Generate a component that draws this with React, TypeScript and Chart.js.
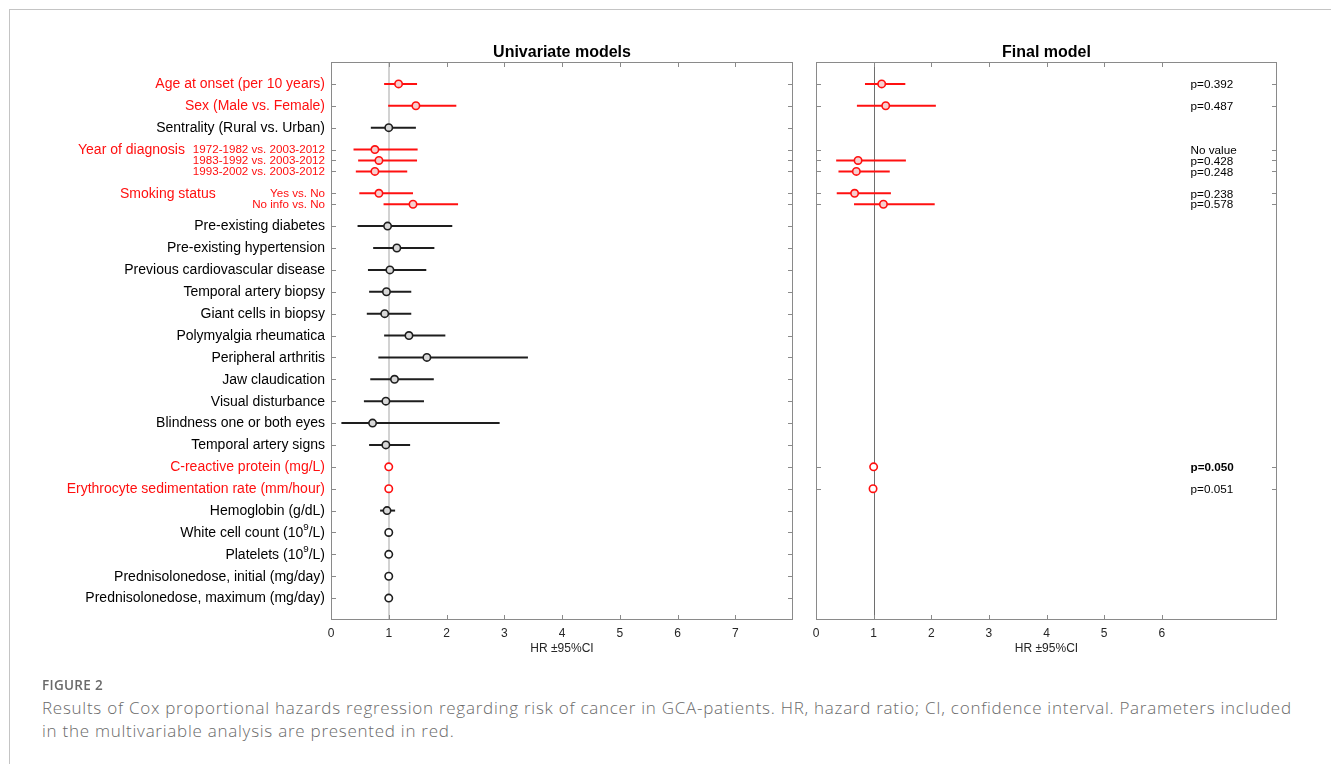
import React, { useEffect, useRef } from "react";
import { Chart, registerables } from "chart.js";
Chart.register(...registerables);

// ---------------- DATA ----------------
const rowLabels = [
  "Age at onset (per 10 years)",
  "Sex (Male vs. Female)",
  "Sentrality (Rural vs. Urban)",
  "1972-1982 vs. 2003-2012",
  "1983-1992 vs. 2003-2012",
  "1993-2002 vs. 2003-2012",
  "Yes vs. No",
  "No info vs. No",
  "Pre-existing diabetes",
  "Pre-existing hypertension",
  "Previous cardiovascular disease",
  "Temporal artery biopsy",
  "Giant cells in biopsy",
  "Polymyalgia rheumatica",
  "Peripheral arthritis",
  "Jaw claudication",
  "Visual disturbance",
  "Blindness one or both eyes",
  "Temporal artery signs",
  "C-reactive protein (mg/L)",
  "Erythrocyte sedimentation rate (mm/hour)",
  "Hemoglobin (g/dL)",
  "White cell count (10^9/L)",
  "Platelets (10^9/L)",
  "Prednisolonedose, initial (mg/day)",
  "Prednisolonedose, maximum (mg/day)",
];

const rowGroups: (string | null)[] = [
  null, null, null,
  "Year of diagnosis", "Year of diagnosis", "Year of diagnosis",
  "Smoking status", "Smoking status",
  null, null, null, null, null, null, null, null, null, null, null,
  null, null, null, null, null, null, null,
];

const inMultivariable = [
  true, true, false, true, true, true, true, true,
  false, false, false, false, false, false, false, false, false, false, false,
  true, true, false, false, false, false, false,
];

const uniHR = [1.17, 1.47, 1.0, 0.76, 0.83, 0.76, 0.83, 1.42, 0.98, 1.14, 1.02, 0.96, 0.93, 1.35, 1.66, 1.1, 0.95, 0.72, 0.95, 1.0, 1.0, 0.97, 1.0, 1.0, 1.0, 1.0];
const uniLo = [0.92, 0.99, 0.69, 0.39, 0.47, 0.43, 0.49, 0.91, 0.46, 0.73, 0.64, 0.66, 0.62, 0.92, 0.82, 0.68, 0.57, 0.18, 0.66, 0.995, 0.995, 0.85, 0.995, 0.998, 0.995, 0.998];
const uniHi = [1.49, 2.17, 1.47, 1.5, 1.49, 1.32, 1.42, 2.2, 2.1, 1.79, 1.65, 1.39, 1.39, 1.98, 3.41, 1.78, 1.61, 2.92, 1.37, 1.005, 1.005, 1.11, 1.005, 1.002, 1.005, 1.002];

const finalHR: (number | null)[] = [1.14, 1.21, null, null, 0.73, 0.7, 0.67, 1.17, null, null, null, null, null, null, null, null, null, null, null, 1.0, 0.99, null, null, null, null, null];
const finalLo: (number | null)[] = [0.85, 0.71, null, null, 0.35, 0.39, 0.36, 0.66, null, null, null, null, null, null, null, null, null, null, null, null, null, null, null, null, null, null];
const finalHi: (number | null)[] = [1.55, 2.08, null, null, 1.56, 1.28, 1.3, 2.06, null, null, null, null, null, null, null, null, null, null, null, null, null, null, null, null, null, null];
const finalP: (string | null)[] = ["p=0.392", "p=0.487", null, "No value", "p=0.428", "p=0.248", "p=0.238", "p=0.578", null, null, null, null, null, null, null, null, null, null, null, "p=0.050", "p=0.051", null, null, null, null, null];

const uniTickLabels = ["0", "1", "2", "3", "4", "5", "6", "7"];
const finalTickLabels = ["0", "1", "2", "3", "4", "5", "6"];
const panelTitles = { uni: "Univariate models", final: "Final model" };
const axisTitle = "HR \u00B195%CI";
const captionHead = "FIGURE 2";
const captionLines = [
  "Results of Cox proportional hazards regression regarding risk of cancer in GCA-patients. HR, hazard ratio; CI, confidence interval. Parameters included",
  "in the multivariable analysis are presented in red.",
];

// ---------------- STYLE ----------------
const FONT = "'Liberation Sans', Arial, Helvetica, sans-serif";
const RED = "#ff1010";
const BLACK = "#1e1e1e";
const RED_FILL = "#f7cfcf";
const BLACK_FILL = "#d8d8d8";
const AXIS = "#8a8a8a";
const groupLabelLeft: Record<string, number> = { "Year of diagnosis": 78, "Smoking status": 120 };

// y positions derived from grouping (sub-rows half spacing)
const rowPos: number[] = [];
{
  let pos = 0;
  let prev: string | null = null;
  rowGroups.forEach((g, i) => {
    if (i > 0 && g !== null && g === prev) pos += 0.5;
    else pos += 1;
    rowPos.push(pos);
    prev = g;
  });
}
const Y_MAX = rowPos[rowPos.length - 1] + 1;

function drawRich(ctx: CanvasRenderingContext2D, text: string, x: number, y: number, size: number, align: "left" | "right") {
  const parts = text.split(/\^(\d+)/);
  const segs = parts.map((p, i) => ({ t: p, sup: i % 2 === 1 }));
  const widths = segs.map((s) => {
    ctx.font = `${s.sup ? size * 0.7 : size}px ${FONT}`;
    return ctx.measureText(s.t).width;
  });
  const total = widths.reduce((a, b) => a + b, 0);
  let cx = align === "right" ? x - total : x;
  ctx.textAlign = "left";
  ctx.textBaseline = "middle";
  segs.forEach((s, i) => {
    ctx.font = `${s.sup ? size * 0.7 : size}px ${FONT}`;
    ctx.fillText(s.t, cx, s.sup ? y - size * 0.38 : y);
    cx += widths[i];
  });
}

function makePlugin(kind: "uni" | "final") {
  return {
    id: "forestDecor" + kind,
    beforeDatasetsDraw(chart: any) {
      const { ctx, chartArea: a, scales } = chart;
      const px = Math.round(scales.x.getPixelForValue(1));
      ctx.save();
      if (kind === "uni") {
        ctx.strokeStyle = "#d2d2d2";
        ctx.lineWidth = 2;
        ctx.beginPath();
        ctx.moveTo(px, a.top);
        ctx.lineTo(px, a.bottom);
      } else {
        ctx.strokeStyle = "#6e6e6e";
        ctx.lineWidth = 1;
        ctx.beginPath();
        ctx.moveTo(px + 0.5, a.top);
        ctx.lineTo(px + 0.5, a.bottom);
      }
      ctx.stroke();
      ctx.restore();
    },
    afterDraw(chart: any) {
      const { ctx, chartArea: a, scales } = chart;
      const x = scales.x;
      const y = scales.y;
      ctx.save();
      // box
      ctx.strokeStyle = AXIS;
      ctx.lineWidth = 1;
      const L = Math.round(a.left) + 0.5;
      const R = Math.round(a.right) - 0.5;
      const T = Math.round(a.top) + 0.5;
      const B = Math.round(a.bottom) - 0.5;
      ctx.strokeRect(L, T, R - L, B - T);
      // x ticks inward, top and bottom
      const tl = kind === "uni" ? uniTickLabels : finalTickLabels;
      ctx.beginPath();
      for (let v = 1; v < tl.length; v++) {
        const px = Math.round(x.getPixelForValue(v)) + 0.5;
        ctx.moveTo(px, T);
        ctx.lineTo(px, T + 4.5);
        ctx.moveTo(px, B);
        ctx.lineTo(px, B - 4.5);
      }
      // y ticks inward, left and right
      rowPos.forEach((p, i) => {
        if (kind === "final" && finalP[i] === null) return;
        const py = Math.round(y.getPixelForValue(p)) + 0.5;
        ctx.moveTo(L, py);
        ctx.lineTo(L + 4.5, py);
        ctx.moveTo(R, py);
        ctx.lineTo(R - 4.5, py);
      });
      ctx.stroke();

      // panel title
      ctx.fillStyle = "#000";
      ctx.font = `bold 16px ${FONT}`;
      ctx.textAlign = "center";
      ctx.textBaseline = "middle";
      ctx.fillText(panelTitles[kind], (a.left + a.right) / 2, a.top - 9);

      // axis title
      ctx.fillStyle = "#262626";
      ctx.font = `12px ${FONT}`;
      ctx.fillText(axisTitle, (a.left + a.right) / 2, a.bottom + 29);

      if (kind === "uni") {
        const drawnGroups = new Set<string>();
        rowLabels.forEach((lab, i) => {
          const py = y.getPixelForValue(rowPos[i]) + 0.5;
          ctx.fillStyle = inMultivariable[i] ? RED : "#000";
          const g = rowGroups[i];
          if (g) {
            drawRich(ctx, lab, a.left - 6, py, 11.6, "right");
            if (!drawnGroups.has(g)) {
              drawnGroups.add(g);
              drawRich(ctx, g, groupLabelLeft[g], py, 14, "left");
            }
          } else {
            drawRich(ctx, lab, a.left - 6, py, 14, "right");
          }
        });
      } else {
        finalP.forEach((p, i) => {
          if (p === null) return;
          const py = y.getPixelForValue(rowPos[i]);
          const val = parseFloat(p.replace("p=", ""));
          const bold = !isNaN(val) && val <= 0.05;
          ctx.fillStyle = "#000";
          ctx.font = `${bold ? "bold " : ""}11.7px ${FONT}`;
          ctx.textAlign = "left";
          ctx.textBaseline = "middle";
          ctx.fillText(p, x.getPixelForValue(6.5), py + 1);
        });
      }
      ctx.restore();
    },
  };
}

function buildConfig(kind: "uni" | "final") {
  const hr = kind === "uni" ? uniHR : finalHR;
  const lo = kind === "uni" ? uniLo : finalLo;
  const hi = kind === "uni" ? uniHi : finalHi;
  const tl = kind === "uni" ? uniTickLabels : finalTickLabels;
  const idx = hr.map((v, i) => (v === null ? -1 : i)).filter((i) => i >= 0);
  const colorOf = (i: number) => (inMultivariable[i] ? RED : BLACK);
  const fillOf = (i: number) => {
    const l = lo[i];
    const h = hi[i];
    if (l === null || h === null || (h as number) - (l as number) < 0.05) return "#ffffff";
    return inMultivariable[i] ? RED_FILL : BLACK_FILL;
  };
  const datasets: any[] = [
    {
      type: "scatter",
      data: idx.map((i) => ({ x: hr[i], y: rowPos[i] })),
      pointRadius: 3.7,
      pointBorderWidth: 1.6,
      pointBorderColor: idx.map(colorOf),
      pointBackgroundColor: idx.map(fillOf),
      showLine: false,
      order: 0,
    },
  ];
  idx.forEach((i) => {
    if (lo[i] === null || hi[i] === null) return;
    datasets.push({
      type: "line",
      data: [
        { x: lo[i], y: rowPos[i] },
        { x: hi[i], y: rowPos[i] },
      ],
      borderColor: colorOf(i),
      borderWidth: 2,
      pointRadius: 0,
      fill: false,
      order: 1,
    });
  });
  return {
    type: "scatter",
    data: { datasets },
    options: {
      animation: false,
      responsive: false,
      devicePixelRatio: 1,
      layout: {
        padding: kind === "uni"
          ? { left: 331, right: 7, top: 62, bottom: 15 }
          : { left: 16, right: 54, top: 62, bottom: 15 },
      },
      plugins: { legend: { display: false }, tooltip: { enabled: false }, title: { display: false } },
      scales: {
        x: {
          type: "linear",
          min: 0,
          max: 8,
          afterBuildTicks: (s: any) => {
            s.ticks = [0, 1, 2, 3, 4, 5, 6, 7, 8].map((v) => ({ value: v }));
          },
          ticks: {
            callback: (v: any) => tl[v] ?? "",
            font: { size: 12, family: FONT },
            color: "#262626",
            padding: 6,
            maxRotation: 0,
            autoSkip: false,
          },
          grid: { display: false, drawTicks: false },
          border: { display: false },
          afterFit: (s: any) => {
            s.height = 45;
          },
        },
        y: { type: "linear", min: 0, max: Y_MAX, reverse: true, display: false },
      },
    },
    plugins: [makePlugin(kind)],
  };
}

function Panel({ kind, left, width, height }: { kind: "uni" | "final"; left: number; width: number; height: number }) {
  const ref = useRef<HTMLCanvasElement | null>(null);
  useEffect(() => {
    if (!ref.current) return;
    const chart = new Chart(ref.current, buildConfig(kind) as any);
    return () => chart.destroy();
  }, [kind]);
  return (
    <canvas
      ref={ref}
      width={width}
      height={height}
      style={{ position: "absolute", left, top: 0, width, height }}
    />
  );
}

export default function App() {
  return (
    <div style={{ position: "absolute", left: 0, top: 0, width: 1331, height: 764, overflow: "hidden", background: "#fff" }}>
      <div
        style={{
          position: "absolute",
          left: 9,
          top: 9,
          right: -2,
          bottom: -2,
          borderTop: "1px solid #c4c4c4",
          borderLeft: "1px solid #c4c4c4",
        }}
      />
      <Panel kind="uni" left={0} width={800} height={680} />
      <Panel kind="final" left={800} width={531} height={680} />
      <div
        style={{
          position: "absolute",
          left: 42,
          top: 676,
          fontFamily: "'Open Sans', 'Noto Sans', sans-serif",
          fontSize: 13.5,
          fontWeight: 600,
          letterSpacing: "0.3px",
          color: "#6a6a6a",
          whiteSpace: "nowrap",
          lineHeight: "18px",
        }}
      >
        {captionHead}
      </div>
      {captionLines.map((t, i) => (
        <div
          key={i}
          style={{
            position: "absolute",
            left: 42,
            top: 696 + i * 23,
            fontFamily: "'Open Sans', 'Noto Sans', sans-serif",
            fontSize: 17,
            fontWeight: 300,
            letterSpacing: "0.74px",
            color: "#6a6a6a",
            whiteSpace: "nowrap",
            lineHeight: "23px",
          }}
        >
          {t}
        </div>
      ))}
    </div>
  );
}
